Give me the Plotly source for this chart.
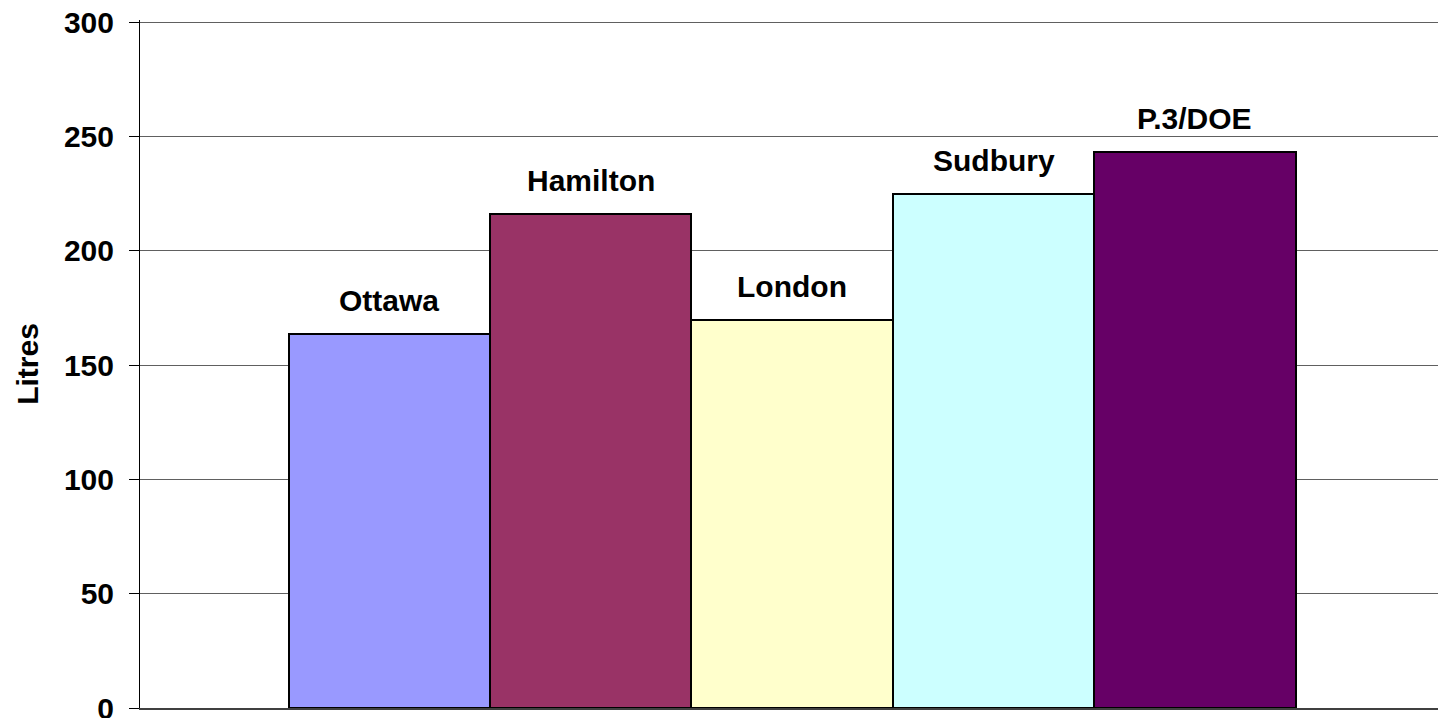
import plotly.graph_objects as go

# water use per person per day
cities = ["Ottawa", "Hamilton", "London", "Sudbury", "P.3/DOE"]
litres = [163.6, 216.1, 169.7, 224.7, 243.2]
bar_colors = ["#9999FF", "#993366", "#FFFFCC", "#CCFFFF", "#660066"]

y_ticks = [0, 50, 100, 150, 200, 250, 300]

font_family = "Arial, 'Liberation Sans', sans-serif"

fig = go.Figure()

fig.add_trace(go.Bar(
    x=cities,
    y=litres,
    marker=dict(color=bar_colors, line=dict(color="black", width=2)),
    showlegend=False,
    hoverinfo="x+y",
))

# city names above each bar
for city, val in zip(cities, litres):
    fig.add_annotation(
        x=city, y=val, text=f"<b>{city}</b>",
        showarrow=False, yanchor="bottom", yshift=15,
        font=dict(family=font_family, size=30, color="black"),
    )

# page body has an 8px margin, so offsets are compensated here
fig.update_layout(
    width=1446,
    height=718,
    margin=dict(l=132, r=0, t=12, b=18, autoexpand=False),
    paper_bgcolor="white",
    plot_bgcolor="white",
    bargap=0,
    font=dict(family=font_family, color="black"),
    xaxis=dict(
        range=[-1.238, 5.286],
        showticklabels=False,
        ticks="",
        showgrid=False,
        zeroline=False,
        showline=True,
        linecolor="#404040",
        linewidth=2,
        automargin=False,
    ),
    yaxis=dict(
        # a hair above 300 so the top gridline is still drawn
        range=[0, 300.9],
        tickvals=y_ticks,
        ticktext=[f"<b>{v}</b>" for v in y_ticks],
        tickfont=dict(family=font_family, size=30, color="black"),
        ticks="outside",
        ticklen=10,
        tickcolor="black",
        tickwidth=1,
        ticklabelstandoff=9,
        ticklabeloverflow="allow",
        showgrid=True,
        gridcolor="#606060",
        gridwidth=1,
        zeroline=False,
        showline=True,
        linecolor="black",
        linewidth=1,
        automargin=False,
        title=dict(text="<b>Litres</b>", font=dict(family=font_family, size=30), standoff=16),
    ),
)

fig.write_html("out.html")
